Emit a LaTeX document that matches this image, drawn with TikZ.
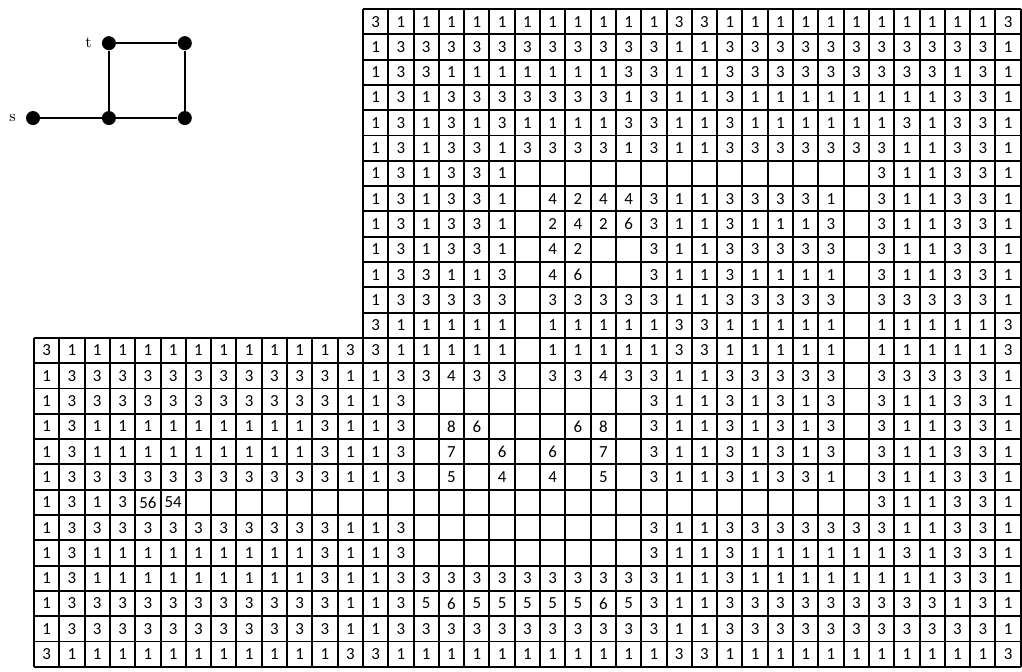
\documentclass[tikz,border=0pt]{standalone}
\usepackage{fontspec}
\newfontfamily\cellfont{Carlito}
\usetikzlibrary{positioning}

\begin{document}
\begin{tikzpicture}[
    x=0.5cm, y=0.5cm,
    node distance=1.48cm and 1.5cm, on grid,
    vertex/.style={circle, fill=black, inner sep=0pt, minimum size=0.277cm},
    vlabel/.style={label distance=2pt, font=\fontsize{9}{11}\selectfont},
    edge/.style={line width=1.1pt},
    gridline/.style={line width=1.1pt},
    cell/.style={inner sep=0pt, font=\cellfont\fontsize{9.5}{11}\selectfont}
]
\useasboundingbox (-1.345,-26.166) rectangle (39.05,0.356);

% the small graph
\node (s) [vertex, label={[vlabel]left:s}] at (-0.04,-4.31) {};
\node (m) [vertex, right=of s] {};
\node (b) [vertex, right=of m] {};
\node (t) [vertex, above=of m, label={[vlabel]left:t}] {};
\node (u) [vertex, above=of b] {};
\draw[edge] (s) -- (m) -- (b) -- (u) -- (t) -- (m);

% the board
\draw[gridline, step=1] (13,-13) grid (39,0);
\draw[gridline, step=1] (0,-26) grid (39,-13);

% cell values, x = empty cell
\foreach \r/\s/\vals in {
  0/13/{3,1,1,1,1,1,1,1,1,1,1,1,3,3,1,1,1,1,1,1,1,1,1,1,1,3},
  1/13/{1,3,3,3,3,3,3,3,3,3,3,3,1,1,3,3,3,3,3,3,3,3,3,3,3,1},
  2/13/{1,3,3,1,1,1,1,1,1,1,3,3,1,1,3,3,3,3,3,3,3,3,3,1,3,1},
  3/13/{1,3,1,3,3,3,3,3,3,3,1,3,1,1,3,1,1,1,1,1,1,1,1,3,3,1},
  4/13/{1,3,1,3,1,3,1,1,1,1,3,3,1,1,3,1,1,1,1,1,1,3,1,3,3,1},
  5/13/{1,3,1,3,3,1,3,3,3,3,1,3,1,1,3,3,3,3,3,3,3,1,1,3,3,1},
  6/13/{1,3,1,3,3,1,x,x,x,x,x,x,x,x,x,x,x,x,x,x,3,1,1,3,3,1},
  7/13/{1,3,1,3,3,1,x,4,2,4,4,3,1,1,3,3,3,3,1,x,3,1,1,3,3,1},
  8/13/{1,3,1,3,3,1,x,2,4,2,6,3,1,1,3,1,1,1,3,x,3,1,1,3,3,1},
  9/13/{1,3,1,3,3,1,x,4,2,x,x,3,1,1,3,3,3,3,3,x,3,1,1,3,3,1},
  10/13/{1,3,3,1,1,3,x,4,6,x,x,3,1,1,3,1,1,1,1,x,3,1,1,3,3,1},
  11/13/{1,3,3,3,3,3,x,3,3,3,3,3,1,1,3,3,3,3,3,x,3,3,3,3,3,1},
  12/13/{3,1,1,1,1,1,x,1,1,1,1,1,3,3,1,1,1,1,1,x,1,1,1,1,1,3},
  13/0/{3,1,1,1,1,1,1,1,1,1,1,1,3,3,1,1,1,1,1,x,1,1,1,1,1,3,3,1,1,1,1,1,x,1,1,1,1,1,3},
  14/0/{1,3,3,3,3,3,3,3,3,3,3,3,1,1,3,3,4,3,3,x,3,3,4,3,3,1,1,3,3,3,3,3,x,3,3,3,3,3,1},
  15/0/{1,3,3,3,3,3,3,3,3,3,3,3,1,1,3,x,x,x,x,x,x,x,x,x,3,1,1,3,1,3,1,3,x,3,1,1,3,3,1},
  16/0/{1,3,1,1,1,1,1,1,1,1,1,3,1,1,3,x,8,6,x,x,x,6,8,x,3,1,1,3,1,3,1,3,x,3,1,1,3,3,1},
  17/0/{1,3,1,1,1,1,1,1,1,1,1,3,1,1,3,x,7,x,6,x,6,x,7,x,3,1,1,3,1,3,1,3,x,3,1,1,3,3,1},
  18/0/{1,3,3,3,3,3,3,3,3,3,3,3,1,1,3,x,5,x,4,x,4,x,5,x,3,1,1,3,1,3,3,1,x,3,1,1,3,3,1},
  19/0/{1,3,1,3,56,54,x,x,x,x,x,x,x,x,x,x,x,x,x,x,x,x,x,x,x,x,x,x,x,x,x,x,x,3,1,1,3,3,1},
  20/0/{1,3,3,3,3,3,3,3,3,3,3,3,1,1,3,x,x,x,x,x,x,x,x,x,3,1,1,3,3,3,3,3,3,3,1,1,3,3,1},
  21/0/{1,3,1,1,1,1,1,1,1,1,1,3,1,1,3,x,x,x,x,x,x,x,x,x,3,1,1,3,1,1,1,1,1,1,3,1,3,3,1},
  22/0/{1,3,1,1,1,1,1,1,1,1,1,3,1,1,3,3,3,3,3,3,3,3,3,3,3,1,1,3,1,1,1,1,1,1,1,1,3,3,1},
  23/0/{1,3,3,3,3,3,3,3,3,3,3,3,1,1,3,5,6,5,5,5,5,5,6,5,3,1,1,3,3,3,3,3,3,3,3,3,1,3,1},
  24/0/{1,3,3,3,3,3,3,3,3,3,3,3,1,1,3,3,3,3,3,3,3,3,3,3,3,1,1,3,3,3,3,3,3,3,3,3,3,3,1},
  25/0/{3,1,1,1,1,1,1,1,1,1,1,1,3,3,1,1,1,1,1,1,1,1,1,1,1,3,3,1,1,1,1,1,1,1,1,1,1,1,3}}
{
  \foreach \v [count=\c from \s] in \vals {
    \if x\v\relax\else
      \node[cell] (r\r-c\c) at (\c+0.5,-\r-0.5) {\v};
    \fi
  }
}
\end{tikzpicture}
\end{document}
